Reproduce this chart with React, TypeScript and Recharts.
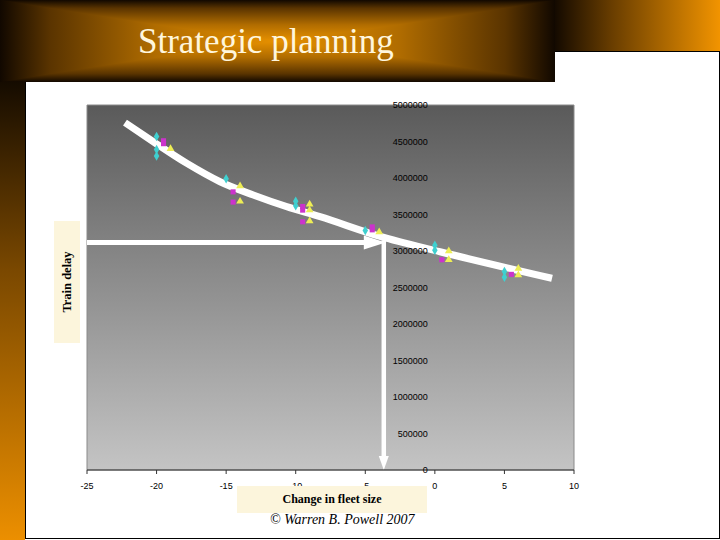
import {
  ComposedChart,
  Scatter,
  Line,
  XAxis,
  YAxis,
  ZAxis,
  CartesianGrid,
  ReferenceArea,
  ReferenceLine,
} from 'recharts'

// fleet size change (x) vs train delay (y), three runs per setting
const runA = [
  { x: -20, y: 4570000 },
  { x: -20, y: 4390000 },
  { x: -20, y: 4300000 },
  { x: -15, y: 3990000 },
  { x: -10, y: 3680000 },
  { x: -10, y: 3620000 },
  { x: -5, y: 3280000 },
  { x: 0, y: 3080000 },
  { x: 0, y: 3010000 },
  { x: 5, y: 2720000 },
  { x: 5, y: 2640000 },
]
const runB = [
  { x: -19.5, y: 4510000 },
  { x: -19.5, y: 4470000 },
  { x: -14.5, y: 3810000 },
  { x: -14.5, y: 3670000 },
  { x: -9.5, y: 3610000 },
  { x: -9.5, y: 3560000 },
  { x: -9.5, y: 3400000 },
  { x: -4.5, y: 3330000 },
  { x: -4.5, y: 3290000 },
  { x: 0.5, y: 2880000 },
  { x: 5.5, y: 2680000 },
]
const runC = [
  { x: -19, y: 4400000 },
  { x: -14, y: 3890000 },
  { x: -14, y: 3680000 },
  { x: -9, y: 3640000 },
  { x: -9, y: 3560000 },
  { x: -9, y: 3410000 },
  { x: -4, y: 3260000 },
  { x: 1, y: 3000000 },
  { x: 1, y: 2880000 },
  { x: 6, y: 2760000 },
  { x: 6, y: 2670000 },
]
// hand-drawn trend curve
const trendCurve = [
  { x: -22.27, y: 4758000 },
  { x: -20.23, y: 4497000 },
  { x: -17.83, y: 4201000 },
  { x: -15.44, y: 3949000 },
  { x: -13.05, y: 3767000 },
  { x: -10.65, y: 3607000 },
  { x: -8.25, y: 3470000 },
  { x: -3.94, y: 3200000 },
  { x: 0.37, y: 2990000 },
  { x: 8.42, y: 2626000 },
]
// chosen operating point
const pickX = -3.67
const pickY = 3116000

const xTicks = [-25, -20, -15, -10, -5, 0, 5, 10]
const yTicks = [0, 500000, 1000000, 1500000, 2000000, 2500000, 3000000, 3500000, 4000000, 4500000, 5000000]
const X_MIN = -25
const X_MAX = 10
const Y_MAX = 5000000

const PLOT_LEFT = 87
const PLOT_RIGHT = 574
const PLOT_TOP = 105
const PLOT_BOTTOM = 470
const PLOT_W = PLOT_RIGHT - PLOT_LEFT

const sans = '"Liberation Sans", Arial, sans-serif'
const serif = '"Liberation Serif", "Times New Roman", serif'

// y labels sit just left of x = 0, like the Excel axis crossing
const renderYTick = (props: any) => {
  const { y, payload } = props
  const zeroX = PLOT_LEFT + (PLOT_W * (0 - X_MIN)) / (X_MAX - X_MIN)
  return (
    <text
      key={payload.value}
      x={zeroX - 7}
      y={y}
      dy={3}
      textAnchor="end"
      fontSize={9}
      fontFamily={sans}
      fill="#000"
    >
      {payload.value}
    </text>
  )
}

const HArrow = ({ x1, y1, x2, y2 }: any) => (
  <g>
    <line x1={x1} y1={y1} x2={x2 - 8} y2={y2} stroke="#fff" strokeWidth={5} />
    <polygon points={`${x2 + 2},${y2} ${x2 - 20},${y2 - 7} ${x2 - 20},${y2 + 7}`} fill="#fff" />
  </g>
)

const VArrow = ({ x1, y1, x2, y2 }: any) => (
  <g>
    <line x1={x1} y1={y1 - 2} x2={x2} y2={y2 - 10} stroke="#fff" strokeWidth={4.5} />
    <polygon points={`${x2},${y2} ${x2 - 5},${y2 - 14} ${x2 + 5},${y2 - 14}`} fill="#fff" />
  </g>
)

export default function App() {
  return (
    <div
      style={{
        position: 'absolute',
        left: 0,
        top: 0,
        width: 720,
        height: 540,
        background: '#fff',
        overflow: 'hidden',
      }}
    >
      {/* slide frame */}
      <div
        style={{
          position: 'absolute',
          left: 0,
          top: 0,
          width: 25,
          height: 540,
          background: 'linear-gradient(to bottom, #0c0600 12%, #7a4800 50%, #ec8f00 100%)',
        }}
      />
      <div
        style={{
          position: 'absolute',
          left: 25,
          top: 51,
          width: 693,
          height: 486,
          border: '1px solid #000',
        }}
      />
      <div
        style={{
          position: 'absolute',
          left: 555,
          top: 0,
          width: 165,
          height: 51,
          background: 'linear-gradient(to right, #140a00, #6a3e00 35%, #f29400 100%)',
        }}
      />
      <div
        style={{
          position: 'absolute',
          left: 0,
          top: 0,
          width: 555,
          height: 82,
          backgroundImage:
            'linear-gradient(to right, #110800 0%, #5a3400 9%, #b06c00 28%, #e69000 50%, #b06c00 72%, #5a3400 91%, #110800 100%),' +
            'linear-gradient(to bottom, #110800 0%, #5a3400 10%, #b06c00 30%, #e69000 50%, #b06c00 70%, #5a3400 90%, #110800 100%)',
          backgroundBlendMode: 'darken',
        }}
      />
      <div
        style={{
          position: 'absolute',
          left: 138,
          top: 22,
          fontFamily: serif,
          fontSize: 35,
          color: '#fff6dc',
          whiteSpace: 'nowrap',
          lineHeight: '40px',
        }}
      >
        Strategic planning
      </div>

      <div style={{ position: 'absolute', left: 0, top: 0 }}>
        <ComposedChart
          width={720}
          height={540}
          margin={{ top: PLOT_TOP, right: 720 - PLOT_RIGHT, bottom: 540 - PLOT_BOTTOM - 20, left: PLOT_LEFT - 1 }}
        >
          <defs>
            <linearGradient id="plotBg" x1="0" y1="0" x2="0" y2="1">
              <stop offset="0%" stopColor="#5a5a5a" />
              <stop offset="100%" stopColor="#c4c4c4" />
            </linearGradient>
          </defs>
          <CartesianGrid horizontal={false} vertical={false} fill="url(#plotBg)" fillOpacity={1} stroke="none" />
          <XAxis
            type="number"
            dataKey="x"
            domain={[X_MIN, X_MAX]}
            ticks={xTicks}
            interval={0}
            allowDataOverflow
            height={20}
            axisLine={{ stroke: '#333' }}
            tickLine={{ stroke: '#333' }}
            tickSize={4}
            tickMargin={9}
            tick={{ fill: '#000', fontSize: 9, fontFamily: sans }}
          />
          <YAxis
            type="number"
            dataKey="y"
            domain={[0, Y_MAX]}
            ticks={yTicks}
            interval={0}
            allowDataOverflow
            width={1}
            axisLine={false}
            tickLine={false}
            tick={renderYTick}
          />
          <ZAxis range={[26, 26]} />
          <ReferenceArea
            x1={X_MIN}
            x2={X_MAX}
            y1={0}
            y2={Y_MAX}
            fill="none"
            stroke="#8a8a8a"
            strokeWidth={1}
          />
          <Scatter data={runA} fill="#3fd0d0" shape="diamond" isAnimationActive={false} />
          <Scatter data={runB} fill="#cc33cc" shape="square" isAnimationActive={false} />
          <Scatter data={runC} fill="#eeee55" shape="triangle" isAnimationActive={false} />
          <Line
            data={trendCurve}
            dataKey="y"
            type="monotone"
            stroke="#fff"
            strokeWidth={7}
            dot={false}
            activeDot={false}
            isAnimationActive={false}
          />
          <ReferenceLine
            segment={[
              { x: X_MIN, y: pickY },
              { x: pickX, y: pickY },
            ]}
            shape={<HArrow />}
          />
          <ReferenceLine
            segment={[
              { x: pickX, y: pickY },
              { x: pickX, y: 0 },
            ]}
            shape={<VArrow />}
          />
        </ComposedChart>
      </div>

      {/* axis titles */}
      <div
        style={{
          position: 'absolute',
          left: 54,
          top: 221,
          width: 26,
          height: 122,
          background: '#fcf5dc',
        }}
      >
        <div
          style={{
            position: 'absolute',
            left: 13,
            top: 61,
            transform: 'translate(-50%, -50%) rotate(-90deg)',
            fontFamily: serif,
            fontWeight: 'bold',
            fontSize: 12.5,
            whiteSpace: 'nowrap',
            color: '#000',
          }}
        >
          Train delay
        </div>
      </div>
      <div
        style={{
          position: 'absolute',
          left: 237,
          top: 486,
          width: 190,
          height: 27,
          background: '#fcf5dc',
          fontFamily: serif,
          fontWeight: 'bold',
          fontSize: 12,
          lineHeight: '27px',
          textAlign: 'center',
          color: '#000',
        }}
      >
        Change in fleet size
      </div>
      <div
        style={{
          position: 'absolute',
          left: 237,
          top: 511,
          width: 216,
          textAlign: 'left',
          paddingLeft: 33,
          fontFamily: serif,
          fontStyle: 'italic',
          fontSize: 14,
          lineHeight: '18px',
          whiteSpace: 'nowrap',
          color: '#000',
        }}
      >
        © Warren B. Powell 2007
      </div>
    </div>
  )
}
